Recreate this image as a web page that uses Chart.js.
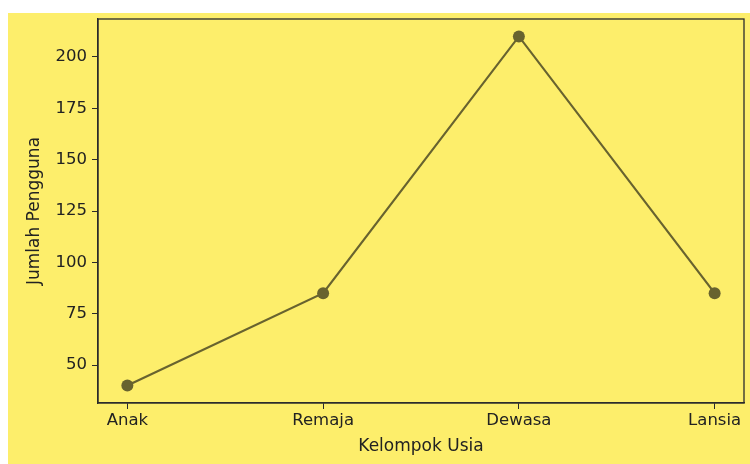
<!DOCTYPE html>
<html>
<head>
<meta charset="utf-8">
<script src="https://cdn.jsdelivr.net/npm/chart.js@4/dist/chart.umd.min.js"></script>
<style>
  html, body { margin: 0; padding: 0; background: #ffffff; }
  #wrap { width: 750px; height: 464px; position: relative; }
</style>
</head>
<body>
<div id="wrap"><canvas id="usiaChart"></canvas></div>
<script>
// Data kelompok usia
const categories = ['Anak', 'Remaja', 'Dewasa', 'Lansia'];
const jumlahPengguna = [40, 85, 210, 85];
const yTicks = [50, 75, 100, 125, 150, 175, 200];

const BG_YELLOW = '#fdee6b';
const LINE_COLOR = '#68632f';
const AXIS_COLOR = '#2b2b2b';
const FONT = 'DejaVu Sans';

// fond jaune décalé + cadre complet autour de la zone du graphique
const framePlugin = {
    id: 'frame',
    beforeDraw(chart) {
        const ctx = chart.ctx;
        ctx.save();
        ctx.fillStyle = '#ffffff';
        ctx.fillRect(0, 0, chart.width, chart.height);
        ctx.fillStyle = BG_YELLOW;
        ctx.fillRect(8, 13, chart.width - 8, chart.height - 13);
        ctx.restore();
    },
    afterDatasetsDraw(chart) {
        const a = chart.chartArea;
        const ctx = chart.ctx;
        ctx.save();
        ctx.strokeStyle = AXIS_COLOR;
        ctx.lineWidth = 1.3;
        ctx.strokeRect(a.left, a.top, a.right - a.left, a.bottom - a.top);
        ctx.restore();
    }
};

const ctx = document.getElementById('usiaChart').getContext('2d');
new Chart(ctx, {
    type: 'line',
    data: {
        datasets: [{
            label: 'Jumlah Pengguna',
            data: jumlahPengguna.map((v, i) => ({ x: i, y: v })),
            borderColor: LINE_COLOR,
            backgroundColor: LINE_COLOR,
            borderWidth: 2.2,
            pointRadius: 6,
            pointHoverRadius: 6,
            pointBackgroundColor: LINE_COLOR,
            pointBorderWidth: 0,
            tension: 0,
            fill: false
        }]
    },
    options: {
        responsive: true,
        maintainAspectRatio: false,
        animation: false,
        layout: { padding: { left: 8, top: 19, right: 6, bottom: 0 } },
        plugins: {
            legend: { display: false },
            tooltip: { enabled: false }
        },
        scales: {
            x: {
                type: 'linear',
                min: -0.15,
                max: categories.length - 1 + 0.15,
                afterBuildTicks: (scale) => {
                    scale.ticks = categories.map((c, i) => ({ value: i }));
                },
                afterFit: (scale) => { scale.height = 61; },
                ticks: {
                    autoSkip: false,
                    maxRotation: 0,
                    padding: 2,
                    color: '#222',
                    font: { family: FONT, size: 16.5 },
                    callback: (v) => categories[v]
                },
                grid: { drawOnChartArea: false, drawTicks: true, tickLength: 6, color: AXIS_COLOR },
                border: { display: true, color: AXIS_COLOR, width: 1.3 },
                title: {
                    display: true,
                    text: 'Kelompok Usia',
                    color: '#222',
                    font: { family: FONT, size: 17 },
                    padding: { top: 0, bottom: 7 }
                }
            },
            y: {
                min: 31.5,
                max: 218.5,
                afterBuildTicks: (scale) => {
                    scale.ticks = yTicks.map(v => ({ value: v }));
                },
                afterFit: (scale) => { scale.width = 90; },
                ticks: {
                    padding: 5,
                    color: '#222',
                    font: { family: FONT, size: 16.5 }
                },
                grid: { drawOnChartArea: false, drawTicks: true, tickLength: 6, color: AXIS_COLOR },
                border: { display: true, color: AXIS_COLOR, width: 1.3 },
                title: {
                    display: true,
                    text: 'Jumlah Pengguna',
                    color: '#222',
                    font: { family: FONT, size: 17 },
                    padding: { top: 16, bottom: 0 }
                }
            }
        }
    },
    plugins: [framePlugin]
});
</script>
</body>
</html>
